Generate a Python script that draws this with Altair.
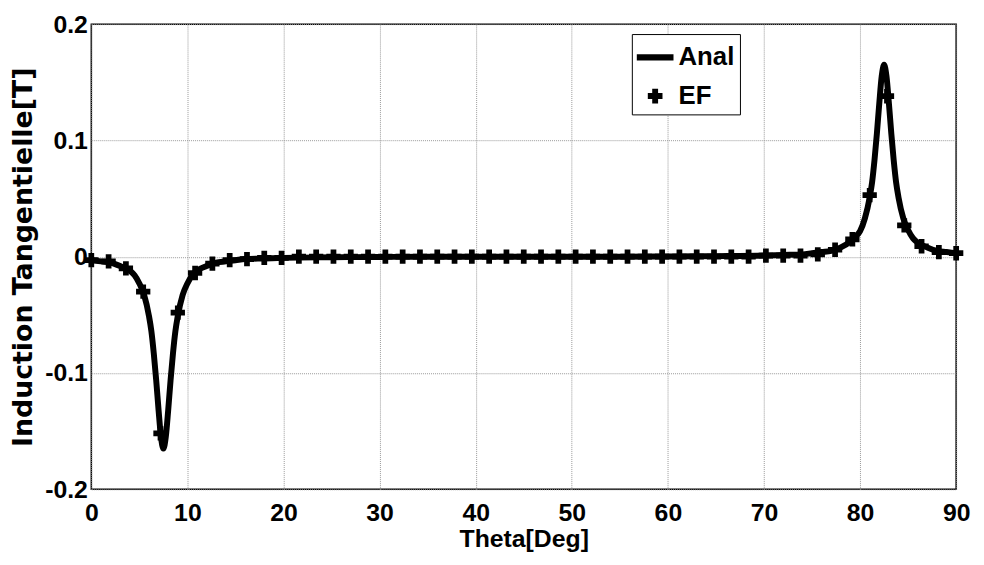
import altair as alt
import pandas as pd

# Analytical curve
anal_x = [0, 1, 2, 3, 4, 4.5, 5, 5.5, 6, 6.25, 6.5, 6.75, 7, 7.25, 7.5, 7.75, 8, 8.25, 8.5, 8.75,
          9, 9.5, 10, 10.5, 11, 12, 13, 14, 15, 16, 18, 20, 25, 30, 35, 40, 45, 50, 55, 60, 65,
          70, 72, 74, 75, 76, 77, 78, 79, 79.5, 80, 80.5, 81, 81.25, 81.5, 81.75, 82, 82.25, 82.5,
          82.75, 83, 83.25, 83.5, 83.75, 84, 84.5, 85, 85.5, 86, 87, 88, 89, 90]
anal_y = [-0.003, -0.004, -0.005, -0.008, -0.012, -0.016, -0.023, -0.033, -0.051, -0.064, -0.083,
          -0.106, -0.132, -0.155, -0.165, -0.155, -0.132, -0.106, -0.083, -0.064,
          -0.051, -0.033, -0.023, -0.016, -0.012, -0.008, -0.005, -0.004, -0.003, -0.002, -0.0015,
          -0.001, -0.0005, -0.0002, 0, 0, 0, 0, 0, 0.0002, 0.0005,
          0.001, 0.0015, 0.002, 0.003, 0.004, 0.005, 0.008, 0.013, 0.017, 0.022, 0.033, 0.051,
          0.064, 0.083, 0.106, 0.132, 0.155, 0.165,
          0.155, 0.132, 0.106, 0.083, 0.064, 0.051, 0.033, 0.023, 0.016, 0.012, 0.008, 0.005,
          0.004, 0.003]

# Finite element samples
ef_x = [0, 1.8, 3.6, 5.4, 7.2, 9.0, 10.8, 12.6, 14.4, 16.2, 18.0, 19.8, 21.6, 23.4, 25.2, 27.0,
        28.8, 30.6, 32.4, 34.2, 36.0, 37.8, 39.6, 41.4, 43.2, 45.0, 46.8, 48.6, 50.4, 52.2, 54.0,
        55.8, 57.6, 59.4, 61.2, 63.0, 64.8, 66.6, 68.4, 70.2, 72.0, 73.8, 75.6, 77.4, 79.2, 81.0,
        82.8, 84.6, 86.4, 88.2, 90.0]
ef_y = [-0.003, -0.004, -0.010, -0.030, -0.152, -0.048, -0.014, -0.006, -0.003, -0.002, -0.001,
        -0.001, 0, 0, 0, 0, 0, 0, 0, 0, 0, 0, 0, 0, 0, 0, 0, 0, 0, 0, 0, 0, 0, 0, 0, 0, 0, 0, 0,
        0.001, 0.001, 0.001, 0.002, 0.006, 0.015, 0.053, 0.138, 0.027, 0.009, 0.004, 0.003]

series_names = ["Anal", "EF"]
x_ticks = [0, 10, 20, 30, 40, 50, 60, 70, 80, 90]
y_ticks = [-0.2, -0.1, 0, 0.1, 0.2]

anal_df = pd.DataFrame({"x": anal_x, "y": anal_y})
ef_df = pd.DataFrame({"x": ef_x, "y": ef_y, "series": "EF"})

LINE_PATH = "M-1,-0.175L1,-0.175L1,0.175L-1,0.175Z"
PLUS_PATH = ("M-0.4,-0.16L-0.16,-0.16L-0.16,-0.4L0.16,-0.4L0.16,-0.16L0.4,-0.16"
             "L0.4,0.16L0.16,0.16L0.16,0.4L-0.16,0.4L-0.16,0.16L-0.4,0.16Z")

xenc = alt.X("x:Q", scale=alt.Scale(domain=[0, 90], nice=False),
             axis=alt.Axis(values=x_ticks, title="Theta[Deg]", labelFlush=False,
                           labelPadding=11, titleX=436, titleY=58,
                           titleBaseline="alphabetic", titleAlign="center"))
yenc = alt.Y("y:Q", scale=alt.Scale(domain=[-0.2, 0.2], nice=False),
             axis=alt.Axis(values=y_ticks, title="Induction Tangentielle[T]",
                           labelExpr="'' + datum.value", labelPadding=4,
                           titleX=-60, titleY=234.6, titleAngle=270,
                           titleBaseline="alphabetic", titleAlign="center",
                           titleFont="DejaVu Sans", titleFontSize=27))

line = alt.Chart(anal_df).mark_line(color="black", strokeWidth=6, interpolate="monotone").encode(
    x=xenc, y=yenc)

points = alt.Chart(ef_df).mark_point(filled=True, size=1300, color="black", opacity=1,
                                     strokeWidth=0).encode(
    x="x:Q", y="y:Q",
    shape=alt.Shape("series:N",
                    scale=alt.Scale(domain=series_names, range=[LINE_PATH, PLUS_PATH]),
                    legend=alt.Legend(orient="none", legendX=545, legendY=10, title=None,
                                      padding=5, rowPadding=7, strokeColor="black",
                                      fillColor="white", symbolSize=1369,
                                      symbolFillColor="black", symbolStrokeColor="black",
                                      symbolStrokeWidth=0, symbolOpacity=1,
                                      labelExpr="datum.label + '\u00a0'",
                                      labelFont="Liberation Sans", labelFontSize=26,
                                      labelFontWeight="bold", labelColor="black",
                                      labelOffset=5, cornerRadius=0)))

chart = alt.layer(line, points).properties(
    width=872, height=469,
    padding={"left": 84, "top": 14, "right": 20, "bottom": 66},
    autosize=alt.AutoSizeParams(type="none"),
    background="white",
).configure_view(
    stroke="black", strokeWidth=1.5
).configure_axis(
    grid=True, gridColor="#999999", gridDash=[1, 1], gridWidth=1,
    domain=False, ticks=False,
    labelFont="Liberation Sans", labelFontSize=25, labelFontWeight="bold", labelColor="black",
    titleFont="Liberation Sans", titleFontSize=25, titleFontWeight="bold", titleColor="black",
)

chart.save("out.html", embed_options={"renderer": "svg", "actions": False})
